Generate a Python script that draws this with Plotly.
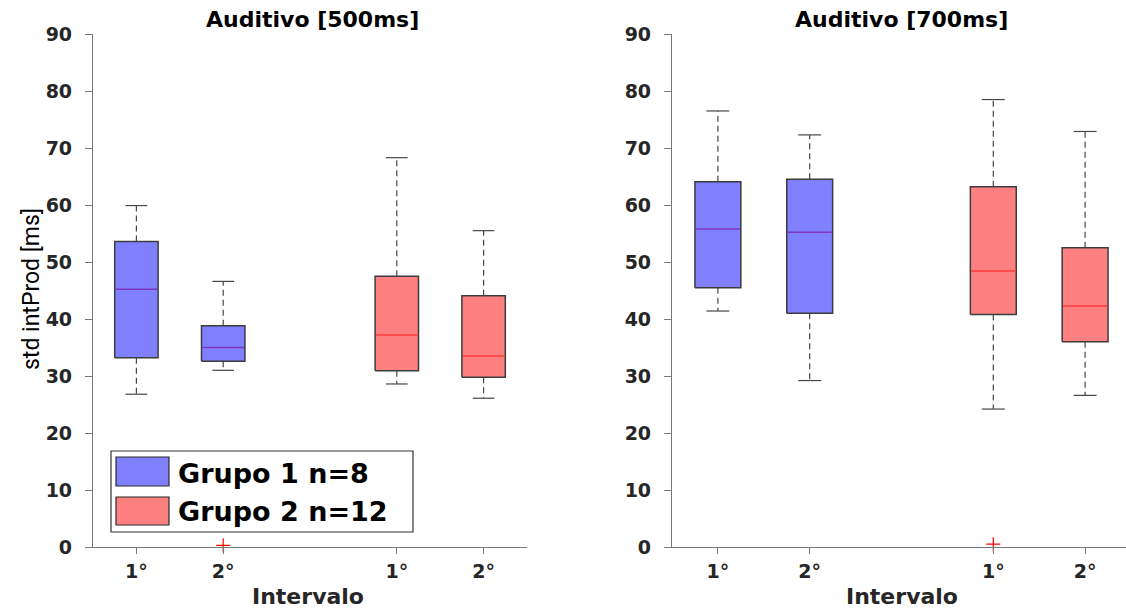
import plotly.graph_objects as go

# ---- data -----------------------------------------------------------------
positions = [1, 2, 4, 5]
tick_labels = ["1°", "2°", "1°", "2°"]
box_group = [0, 0, 1, 1]               # which group each box belongs to
group_names = ["Grupo 1 n=8", "Grupo 2 n=12"]

# Auditivo [500ms]
a500_upper = [59.9, 46.6, 68.3, 55.5]
a500_q3 = [53.6, 38.8, 47.5, 44.1]
a500_median = [45.2, 35.0, 37.2, 33.5]
a500_q1 = [33.2, 32.6, 30.9, 29.8]
a500_lower = [26.8, 31.0, 28.6, 26.1]
a500_out_x = [2]
a500_out_y = [0.3]

# Auditivo [700ms]
a700_upper = [76.5, 72.3, 78.5, 72.9]
a700_q3 = [64.1, 64.5, 63.2, 52.5]
a700_median = [55.8, 55.2, 48.4, 42.3]
a700_q1 = [45.5, 41.0, 40.8, 36.0]
a700_lower = [41.4, 29.2, 24.2, 26.6]
a700_out_x = [4]
a700_out_y = [0.5]

# ---- styling --------------------------------------------------------------
W, H = 1126, 610
FILL = ["rgb(128,128,255)", "rgb(255,128,128)"]
MEDIAN = ["rgb(128,52,190)", "rgb(255,60,60)"]
EDGE = "rgb(60,60,60)"
WHISK = "rgb(70,70,70)"
AXIS = "rgb(120,120,120)"
TXT = "rgb(38,38,38)"
BOX_HALF = 0.25
CAP_HALF = 0.125


def px(x):
    return x / W


def py(y):
    return 1 - y / H


def panel_traces(xa, ya, upper, q3, med, q1, lower, out_x, out_y):
    traces = []
    # dashed whiskers
    wx, wy = [], []
    for p, u, h, l, lo in zip(positions, upper, q3, q1, lower):
        wx += [p, p, None, p, p, None]
        wy += [h, u, None, l, lo, None]
    traces.append(go.Scatter(x=wx, y=wy, mode="lines", xaxis=xa, yaxis=ya,
                             line=dict(color=WHISK, width=1.2, dash="6px,4px"),
                             showlegend=False, hoverinfo="skip"))
    # whisker caps
    cx, cy = [], []
    for p, u, lo in zip(positions, upper, lower):
        cx += [p - CAP_HALF, p + CAP_HALF, None, p - CAP_HALF, p + CAP_HALF, None]
        cy += [u, u, None, lo, lo, None]
    traces.append(go.Scatter(x=cx, y=cy, mode="lines", xaxis=xa, yaxis=ya,
                             line=dict(color=WHISK, width=1.2),
                             showlegend=False, hoverinfo="skip"))
    # boxes and medians
    for p, g, h, m, l in zip(positions, box_group, q3, med, q1):
        traces.append(go.Scatter(
            x=[p - BOX_HALF, p + BOX_HALF, p + BOX_HALF, p - BOX_HALF, p - BOX_HALF],
            y=[l, l, h, h, l], mode="lines", fill="toself",
            fillcolor=FILL[g], line=dict(color=EDGE, width=1.5),
            xaxis=xa, yaxis=ya, showlegend=False, hoverinfo="skip"))
        traces.append(go.Scatter(
            x=[p - BOX_HALF + 0.01, p + BOX_HALF - 0.01], y=[m, m], mode="lines",
            line=dict(color=MEDIAN[g], width=1.5), xaxis=xa, yaxis=ya,
            showlegend=False, hoverinfo="skip"))
    # outliers
    traces.append(go.Scatter(
        x=out_x, y=out_y, mode="markers", xaxis=xa, yaxis=ya,
        marker=dict(symbol="cross-thin", size=10, line=dict(color="red", width=1.2)),
        cliponaxis=False, showlegend=False, hoverinfo="skip"))
    return traces


fig = go.Figure()
for t in panel_traces("x", "y", a500_upper, a500_q3, a500_median, a500_q1,
                      a500_lower, a500_out_x, a500_out_y):
    fig.add_trace(t)
for t in panel_traces("x2", "y2", a700_upper, a700_q3, a700_median, a700_q1,
                      a700_lower, a700_out_x, a700_out_y):
    fig.add_trace(t)

tick_font = dict(family="DejaVu Sans", size=19, color=TXT, weight="bold")
xcommon = dict(tickvals=positions, ticktext=tick_labels, ticks="outside",
               ticklen=6, tickcolor=AXIS, showline=True, linecolor=AXIS,
               linewidth=1.2, showgrid=False, zeroline=False, automargin=False,
               tickfont=tick_font, ticklabelstandoff=1, fixedrange=True)
ycommon = dict(range=[0, 90], tickvals=list(range(0, 91, 10)), ticks="outside",
               ticklen=7, tickcolor=AXIS, showline=True, linecolor=AXIS,
               linewidth=1.2, showgrid=False, zeroline=False, automargin=False,
               tickfont=tick_font, ticklabelstandoff=9,
               domain=[py(547), py(34)], fixedrange=True)

fig.update_layout(
    width=W, height=H, margin=dict(l=0, r=0, t=0, b=0, pad=0, autoexpand=False),
    paper_bgcolor="white", plot_bgcolor="white", showlegend=False,
    xaxis=dict(domain=[px(93), px(527)], range=[0.5, 5.5], anchor="y", **xcommon),
    yaxis=dict(anchor="x", **ycommon),
    xaxis2=dict(domain=[px(672), 1.0], range=[0.5, 0.5 + (W - 672) / 91.8],
                anchor="y2", **xcommon),
    yaxis2=dict(anchor="x2", **ycommon),
)

title_font = dict(family="DejaVu Sans", size=22, color="black", weight="bold")
label_font = dict(family="DejaVu Sans", size=22, color=TXT, weight="bold")
annotations = [
    dict(text="Auditivo [500ms]", x=px(312), y=py(19), font=title_font),
    dict(text="Auditivo [700ms]", x=px(901), y=py(19), font=title_font),
    dict(text="Intervalo", x=px(308), y=py(596), font=label_font),
    dict(text="Intervalo", x=px(902), y=py(596), font=label_font),
    dict(text="std intProd [ms]", x=px(31), y=py(289), textangle=-90,
         font=dict(family="Roboto", size=23, color="black")),
]

# legend drawn inside the left panel
shapes = [dict(type="rect", xref="paper", yref="paper",
               x0=px(111), x1=px(413), y0=py(532), y1=py(451),
               line=dict(color="rgb(50,50,50)", width=1.2), fillcolor="white",
               layer="above")]
legend_rows = [(457, 486, 473), (497, 525, 511)]
for g, (top, bottom, mid) in enumerate(legend_rows):
    shapes.append(dict(type="rect", xref="paper", yref="paper",
                       x0=px(116), x1=px(169), y0=py(bottom), y1=py(top),
                       line=dict(color="rgb(40,40,40)", width=1.2),
                       fillcolor=FILL[g], layer="above"))
    annotations.append(dict(text=group_names[g], x=px(176), y=py(mid),
                            xanchor="left",
                            font=dict(family="DejaVu Sans", size=27,
                                      color="black", weight="bold")))

for a in annotations:
    a.setdefault("xref", "paper")
    a.setdefault("yref", "paper")
    a.setdefault("showarrow", False)
    a.setdefault("xanchor", "center")
    a.setdefault("yanchor", "middle")

fig.update_layout(annotations=annotations, shapes=shapes)
fig.write_html("out.html")
